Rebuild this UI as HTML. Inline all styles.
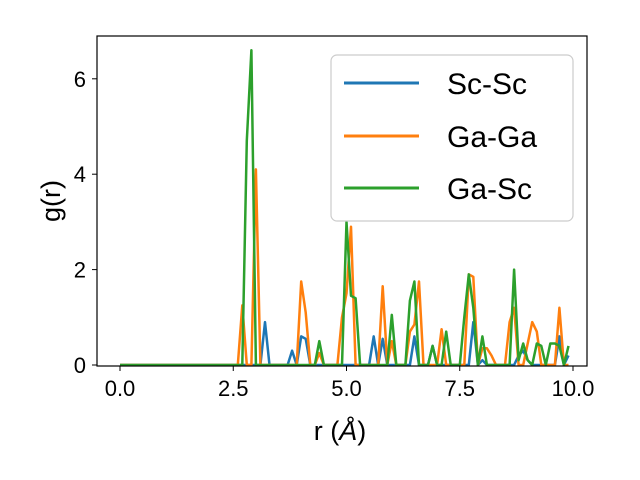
<!DOCTYPE html>
<html><head><meta charset="utf-8"><style>body{margin:0;background:#fff}svg{display:block;font-family:"Liberation Sans","DejaVu Sans",sans-serif}</style></head>
<body>
<svg id="chart" width="640" height="480" xmlns="http://www.w3.org/2000/svg">
<rect width="640" height="480" fill="#fff"/>
<g id="plot"></g>
<rect x="97" y="36" width="490" height="330" fill="none" stroke="#000" stroke-width="1.2"/>
<g id="ticks"></g>
<text x="340" y="440" font-size="27" text-anchor="middle">r (<tspan font-style="italic">Å</tspan>)</text>
<text transform="translate(60,201) rotate(-90)" font-size="27" text-anchor="middle">g(r)</text>
<g>
<rect x="331" y="55" width="242" height="166" rx="6" fill="#fff" fill-opacity="0.8" stroke="#ccc" stroke-width="1.2"/>
<g><line x1="344" y1="83" x2="419" y2="83" stroke="#1f77b4" stroke-width="3"/><text x="447" y="94" font-size="30">Sc-Sc</text></g>
<g><line x1="344" y1="136" x2="419" y2="136" stroke="#ff7f0e" stroke-width="3"/><text x="447" y="147" font-size="30">Ga-Ga</text></g>
<g><line x1="344" y1="188" x2="419" y2="188" stroke="#2ca02c" stroke-width="3"/><text x="447" y="199" font-size="30">Ga-Sc</text></g>
</g>
</svg>
<script>
const xTicks=[0,2.5,5,7.5,10];
const xTickLabels=["0.0","2.5","5.0","7.5","10.0"];
const yTicks=[0,2,4,6];
const yTickLabels=["0","2","4","6"];
const rValues=Array.from({length:100},(_,i)=>i/10);
const scSc=[0,0,0,0,0,0,0,0,0,0, 0,0,0,0,0,0,0,0,0,0, 0,0,0,0,0,0,0,0,0,0,
0,0,0.9,0,0,0,0,0,0.3,0, 0.6,0.55,0,0,0,0,0,0,0,0, 0,0,0,0,0,0,0.6,0,0.55,0,
0,0,0,0,0,0.6,0,0,0,0.4, 0,0,0,0,0,0,0,0,0.9,0, 0.1,0,0,0,0,0,0,0,0.2,0.3, 0.1,0,0,0,0,0,0,0.6,0,0.2];
const gaGa=[0,0,0,0,0,0,0,0,0,0, 0,0,0,0,0,0,0,0,0,0, 0,0,0,0,0,0,0,1.25,0,0,
4.1,0,0,0,0,0,0,0,0,0, 1.75,1.1,0,0,0.25,0,0,0,0,1.0, 1.5,2.9,0,0,0,0,0,0,1.65,0,
0.5,0,0,0,0.7,0.85,1.75,0,0,0, 0,0.75,0,0,0,0,0,1.9,1.85,0, 0.35,0.35,0.2,0,0,0,0.9,1.2,0,0, 0.45,0.9,0.7,0,0,0,0,1.2,0,0];
const gaSc=[0,0,0,0,0,0,0,0,0,0, 0,0,0,0,0,0,0,0,0,0, 0,0,0,0,0,0,0,0,4.7,6.6,
0,0,0,0,0,0,0,0,0,0, 0,0,0,0,0.5,0,0,0,0,0, 3.0,1.45,1.4,0,0,0,0,0,0,0,
1.05,0,0,0,1.35,1.75,0,0,0,0.4, 0,0,0.7,0,0,0,1.0,1.9,1.2,0, 0.6,0,0,0,0,0,0,2.0,0.1,0.45, 0.1,0,0.45,0.4,0,0.45,0.45,0.4,0,0.4];
const series=[["sc-sc",scSc,"#1f77b4"],["ga-ga",gaGa,"#ff7f0e"],["ga-sc",gaSc,"#2ca02c"]];
const NS="http://www.w3.org/2000/svg";
const xs=v=>120+45.3*v;
const ys=v=>365-47.7*v;
const plot=document.getElementById('plot');
series.forEach(([name,vals,col])=>{
  const p=document.createElementNS(NS,'polyline');
  p.setAttribute('points',vals.map((v,i)=>xs(rValues[i]).toFixed(1)+','+ys(v).toFixed(1)).join(' '));
  p.setAttribute('fill','none');p.setAttribute('stroke',col);p.setAttribute('stroke-width','2.5');p.setAttribute('stroke-linejoin','round');
  
  
  plot.appendChild(p);
});
const tg=document.getElementById('ticks');
xTicks.forEach((t,i)=>{
  const l=document.createElementNS(NS,'line');
  l.setAttribute('x1',xs(t));l.setAttribute('x2',xs(t));l.setAttribute('y1',366);l.setAttribute('y2',371);l.setAttribute('stroke','#000');
  
  
  tg.appendChild(l);
  const tx=document.createElementNS(NS,'text');
  tx.setAttribute('x',xs(t));tx.setAttribute('y',396);tx.setAttribute('font-size','22');tx.setAttribute('text-anchor','middle');
  tx.textContent=xTickLabels[i];
  
  
  tg.appendChild(tx);
});
yTicks.forEach((t,i)=>{
  const l=document.createElementNS(NS,'line');
  l.setAttribute('x1',92);l.setAttribute('x2',97);l.setAttribute('y1',ys(t));l.setAttribute('y2',ys(t));l.setAttribute('stroke','#000');
  
  
  tg.appendChild(l);
  const tx=document.createElementNS(NS,'text');
  tx.setAttribute('x',86);tx.setAttribute('y',ys(t)+8);tx.setAttribute('font-size','22');tx.setAttribute('text-anchor','end');
  tx.textContent=yTickLabels[i];
  
  
  tg.appendChild(tx);
});
</script>
</body></html>
